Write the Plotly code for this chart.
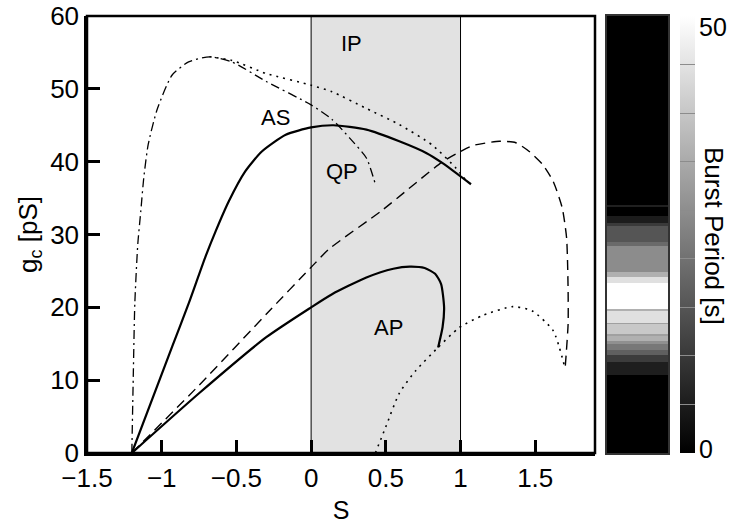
import plotly.graph_objects as go

# ---------------- data ----------------
as_S = [-1.2, -0.93, -0.82, -0.71, -0.64, -0.55, -0.44, -0.33, -0.17, 0.0, 0.15, 0.37, 0.59, 0.77, 0.88, 1.07]
as_gc = [0, 14.6, 20.5, 26.8, 30.4, 34.6, 38.7, 41.4, 43.7, 44.7, 45.0, 44.4, 42.8, 41.2, 39.8, 36.9]

ap_S = [-1.2, -0.75, -0.3, 0.0, 0.14, 0.37, 0.55, 0.66, 0.76, 0.83, 0.87, 0.89, 0.88, 0.85]
ap_gc = [0, 8.2, 15.9, 20.0, 21.8, 24.1, 25.3, 25.6, 25.4, 24.6, 23.2, 20.0, 17.3, 14.5]

dash_S = [-1.2, -0.75, -0.28, 0.0, 0.12, 0.48, 0.88, 1.0, 1.08, 1.26, 1.37, 1.46, 1.55, 1.62, 1.68, 1.71, 1.72, 1.72, 1.70]
dash_gc = [0, 9.3, 19.5, 25.5, 28.0, 33.4, 40.0, 41.4, 42.2, 42.8, 42.6, 41.4, 39.6, 37.3, 33.7, 29.5, 22.3, 17.7, 11.6]

dd_S = [-1.2, -1.19, -1.18, -1.16, -1.14, -1.12, -1.09, -1.03, -0.93, -0.82, -0.68, -0.53, -0.30, 0.0, 0.14, 0.26, 0.37, 0.43]
dd_gc = [0, 10.9, 20.5, 28.7, 33.2, 37.8, 42.4, 47.2, 51.9, 53.7, 54.4, 53.7, 51.0, 47.8, 45.8, 43.2, 40.5, 36.9]

dotu_S = [-0.68, -0.53, -0.30, 0.0, 0.14, 0.37, 0.59, 0.81, 0.97, 1.03]
dotu_gc = [54.4, 53.9, 52.1, 50.5, 49.6, 47.3, 45.1, 42.3, 39.1, 37.6]

dotl_S = [0.43, 0.50, 0.59, 0.70, 0.85, 0.99, 1.15, 1.35, 1.48, 1.62, 1.70]
dotl_gc = [0, 3.6, 8.2, 11.3, 14.5, 17.2, 18.9, 20.1, 19.5, 16.8, 11.6]

ip_band = [0, 1]

region_labels = ["IP", "AS", "QP", "AP"]
region_S = [0.27, -0.24, 0.21, 0.52]
region_gc = [56.2, 46.0, 38.7, 17.2]

# burst-period strip (gc band edges and period in each band)
strip_edges = [0, 10.7, 12.5, 13.4, 14.2, 14.9, 15.4, 16.0, 16.3, 17.7, 17.9, 19.5, 19.8,
               23.3, 24.1, 24.8, 28.4, 29.0, 31.1, 31.6, 32.5, 33.8, 34.1, 60]
strip_period = [0, 5.9, 11.8, 18.8, 23.5, 28.2, 34.5, 31.4, 39.2, 31.4, 43.9, 34.5,
                50, 43.9, 34.5, 27.5, 20.8, 16.7, 11.4, 5.5, 0, 6.3, 0]

cbar_levels = [0, 5.56, 11.11, 16.67, 22.22, 27.78, 33.33, 38.89, 44.44, 50]
cbar_labels = ["0", "50"]

x_range = [-1.5, 1.9]
x_tick0, x_major = -1.5, 0.5
y_range = [0, 60]
y_tick0, y_major = 0, 10

# ---------------- figure ----------------
FONT = "Liberation Sans, Arial, Helvetica, sans-serif"
TS = 26
W, H = 730, 527
L, R, T, B = 87, 0, 16, 74
PW = W - L - R
PH = H - T - B

def px(xp):
    return (xp - L) / PW

def py(yp):
    return (H - B - yp) / PH

fig = go.Figure()

fig.add_shape(type="rect", xref="x", yref="y domain", x0=ip_band[0], x1=ip_band[1], y0=0, y1=1,
              fillcolor="#e2e2e2", line=dict(color="black", width=1), layer="below")
# plot frame (top / right edges)
fig.add_shape(type="rect", xref="x domain", yref="y domain", x0=0, x1=1, y0=0, y1=1,
              fillcolor="rgba(0,0,0,0)", line=dict(color="black", width=2.5), layer="above")

def curve(xs, ys, dash, width, sm=0.6):
    fig.add_trace(go.Scatter(x=xs, y=ys, mode="lines", xaxis="x", yaxis="y",
                             line=dict(color="black", width=width, dash=dash,
                                       shape="spline", smoothing=sm),
                             hoverinfo="skip", showlegend=False))

curve(as_S, as_gc, "solid", 2.2)
curve(ap_S, ap_gc, "solid", 2.2)
curve(dash_S, dash_gc, "10px,6px", 1.4)
curve(dd_S, dd_gc, "9px,4px,2px,4px", 1.3)
curve(dotu_S, dotu_gc, "2px,5px", 1.6)
curve(dotl_S, dotl_gc, "2px,5px", 1.6)

fig.add_trace(go.Heatmap(
    x=[0, 1], y=strip_edges, z=[[v] for v in strip_period],
    xaxis="x2", yaxis="y2", zmin=0, zmax=50, zsmooth=False,
    colorscale=[[0, "#000000"], [1, "#ffffff"]], hoverinfo="skip",
    colorbar=dict(x=px(680), xanchor="left", y=0.5, yanchor="middle",
                  len=1, lenmode="fraction", thickness=15, thicknessmode="pixels",
                  xpad=0, ypad=0, outlinewidth=0,
                  tickvals=cbar_levels, ticktext=[""] * len(cbar_levels),
                  ticks="inside", ticklen=15, tickcolor="#8c8c8c", tickwidth=1),
))

for t, sx, sy in zip(region_labels, region_S, region_gc):
    fig.add_annotation(x=sx, y=sy, xref="x", yref="y", text=t, showarrow=False,
                       font=dict(family=FONT, size=22, color="black"))

fig.add_annotation(x=px(697), y=py(27), xref="paper", yref="paper", text=cbar_labels[1],
                   xanchor="left", yanchor="middle", showarrow=False,
                   font=dict(family=FONT, size=25, color="black"))
fig.add_annotation(x=px(697), y=py(449), xref="paper", yref="paper", text=cbar_labels[0],
                   xanchor="left", yanchor="middle", showarrow=False,
                   font=dict(family=FONT, size=25, color="black"))
fig.add_annotation(x=px(714), y=py(236), xref="paper", yref="paper", text="Burst Period [s]",
                   textangle=90, xanchor="center", yanchor="middle", showarrow=False,
                   font=dict(family=FONT, size=26, color="black"))

fig.update_layout(
    width=W, height=H,
    margin=dict(l=L, r=R, t=T, b=B),
    paper_bgcolor="white", plot_bgcolor="white",
    showlegend=False,
    font=dict(family=FONT, size=TS, color="black"),
    xaxis=dict(domain=[0, px(595)], range=x_range, anchor="y",
               tickmode="linear", tick0=x_tick0, dtick=x_major,
               ticks="inside", ticklen=13, tickwidth=2.5, tickcolor="black",
               showline=True, linecolor="black", linewidth=2.5,
               showgrid=False, zeroline=False,
               title=dict(text="S", standoff=10, font=dict(family=FONT, size=25))),
    yaxis=dict(domain=[0, 1], range=y_range, anchor="x",
               tickmode="linear", tick0=y_tick0, dtick=y_major,
               ticks="inside", ticklen=13, tickwidth=2.5, tickcolor="black",
               showline=True, linecolor="black", linewidth=2.5,
               showgrid=False, zeroline=False,
               title=dict(text="g<sub>c</sub> [pS]", standoff=6, font=dict(family=FONT, size=26))),
    xaxis2=dict(domain=[px(607), px(668)], range=[0, 1], anchor="y2",
                showticklabels=False, ticks="", showgrid=False, zeroline=False,
                showline=True, mirror=True, linecolor="#333333", linewidth=1.5),
    yaxis2=dict(domain=[0, 1], range=y_range, anchor="x2",
                showticklabels=False, ticks="", showgrid=False, zeroline=False,
                showline=True, mirror=True, linecolor="#333333", linewidth=1.5),
)

fig.write_html("out.html", config={"displayModeBar": False},
               post_script="document.body.style.margin='0';document.body.style.overflow='hidden';")
